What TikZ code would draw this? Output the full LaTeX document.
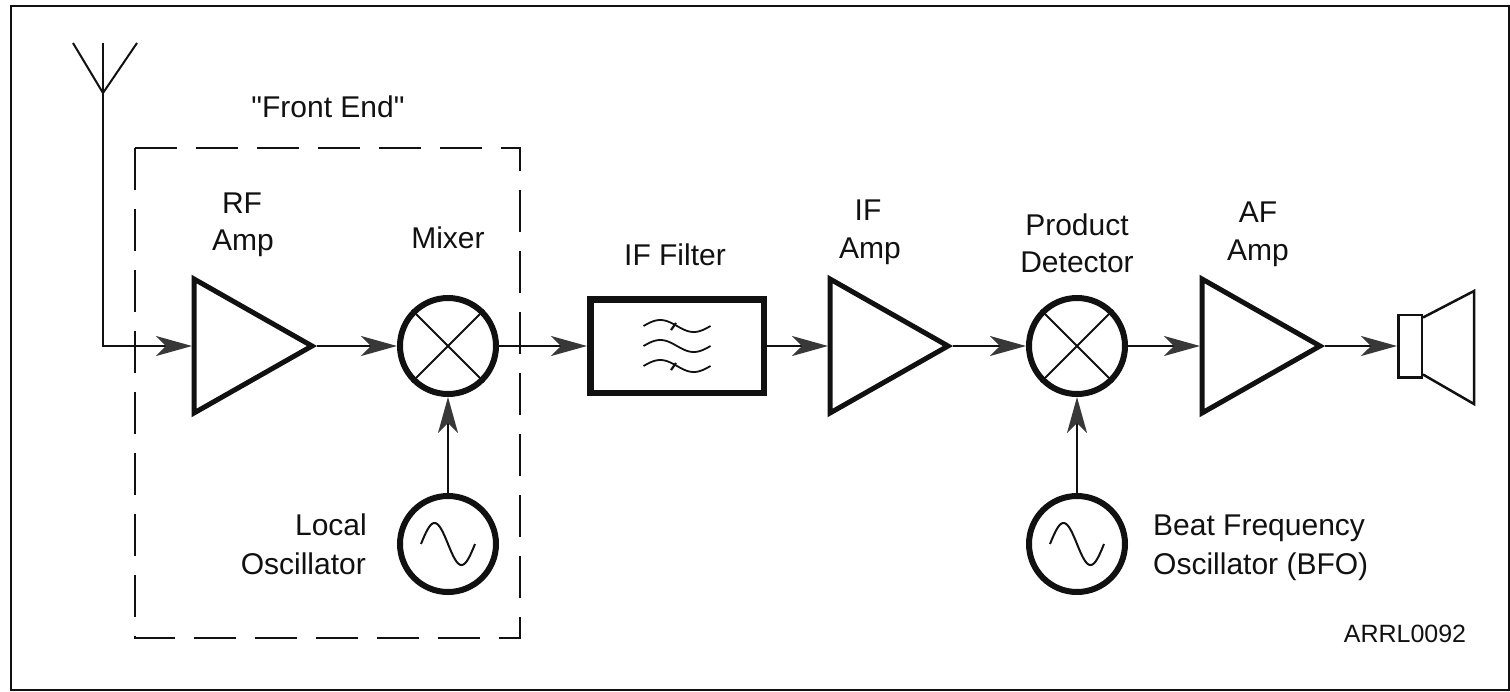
\documentclass[tikz,border=0pt]{standalone}
\usepackage{fontspec}
\setmainfont{Liberation Sans}
\newfontfamily\qfont{Liberation Sans}
\usetikzlibrary{arrows.meta}
\definecolor{arrowgray}{HTML}{383838}
\definecolor{inkblack}{HTML}{111111}
\begin{document}
\begin{tikzpicture}[x=1pt,y=-1pt,
  lbl/.style={font=\fontsize{30}{36}\selectfont, inner sep=0pt, anchor=base, text=inkblack},
  lblr/.style={lbl, anchor=base east},
  lbll/.style={lbl, anchor=base west},
  sig/.style={line width=2pt, draw=inkblack, -{Stealth[length=36pt,width=20pt,inset=10pt,color=arrowgray]}},
  wire/.style={line width=2pt, draw=inkblack},
  ampbox/.style={line width=5pt, draw=inkblack, line join=miter},
  ring/.style={circle, draw=inkblack, line width=6pt, minimum size=96pt, inner sep=0pt},
  thin/.style={line width=2pt, draw=inkblack},
  filt/.style={rectangle, draw=inkblack, line width=6.5pt, minimum width=173.5pt, minimum height=93.5pt, inner sep=0pt},
  spkbox/.style={rectangle, draw=inkblack, line width=2.5pt, minimum width=23.5pt, minimum height=62.5pt, inner sep=0pt},
  frontend/.style={line width=2pt, draw=inkblack, dash pattern=on 42pt off 19pt}
]
\useasboundingbox (0,0) rectangle (1510,691);
% outer frame
\draw[line width=2pt, draw=inkblack] (11,5.5) rectangle (1509,689.5);

% front end dashed box
\draw[frontend] (135,148) rectangle (520,638);
\node[lbl, font=\qfont\fontsize{30}{36}\selectfont] (felbl) at (328,117) {"Front End"};

% antenna
\coordinate (anttop) at (103,43);
\coordinate (antapex) at (103,93);
\coordinate (antl) at (73,43);
\coordinate (antr) at (137,43);
\coordinate (antcorner) at (103,346);
\draw[wire] (antl) -- (antapex) -- (antr);

% RF amp
\draw[ampbox] (194,279) -- (312,346) -- (194,413) -- cycle;
\coordinate (rfin) at (192,346);
\coordinate (rfout) at (317,346);
\node[lbl] (rflbl1) at (242,213) {RF};
\node[lbl] (rflbl2) at (243,250) {Amp};

% Mixer
\node[ring] (mix) at (448,346) {};
\draw[thin] (mix.45) -- (mix.225);
\draw[thin] (mix.135) -- (mix.315);
\node[lbl] (mixlbl) at (448,248) {Mixer};

% Local oscillator
\node[ring] (lo) at (448,544) {};
\draw[thin, shift={(lo.center)}] plot[domain=-27:27, samples=60, smooth] (\x,{21*sin(\x*180/27)});
\node[lblr] (lolbl1) at (367,535) {Local};
\node[lblr] (lolbl2) at (366,574) {Oscillator};

% IF filter
\node[filt] (flt) at (677,346) {};
\foreach \yy in {-20,0,20}{
  \draw[thin, line width=1.8pt, shift={(flt.center)}, yshift=-\yy pt] plot[domain=-33.5:33.5, samples=60, smooth] (\x,{6*sin(\x*180/33.5)});
}
\draw[thin, line width=2.2pt] (671,330) -- (676,323);
\draw[thin, line width=2.2pt] (671,370) -- (676,363);
\node[lbl] (fltlbl) at (675,265) {IF Filter};

% IF amp
\draw[ampbox] (830,279) -- (948,346) -- (830,413) -- cycle;
\coordinate (ifin) at (828,346);
\coordinate (ifout) at (953,346);
\node[lbl] (iflbl1) at (868,220) {IF};
\node[lbl] (iflbl2) at (870,258) {Amp};

% Product detector
\node[ring] (pd) at (1077,346) {};
\draw[thin] (pd.45) -- (pd.225);
\draw[thin] (pd.135) -- (pd.315);
\node[lbl] (pdlbl1) at (1077,235) {Product};
\node[lbl] (pdlbl2) at (1077,272) {Detector};

% BFO
\node[ring] (bfo) at (1077,544) {};
\draw[thin, shift={(bfo.center)}] plot[domain=-27:27, samples=60, smooth] (\x,{21*sin(\x*180/27)});
\node[lbll] (bfolbl1) at (1153,535) {Beat Frequency};
\node[lbll] (bfolbl2) at (1153,574) {Oscillator (BFO)};

% AF amp
\draw[ampbox] (1202,279) -- (1320,346) -- (1202,413) -- cycle;
\coordinate (afin) at (1200,346);
\coordinate (afout) at (1325,346);
\node[lbl] (aflbl1) at (1258,222) {AF};
\node[lbl] (aflbl2) at (1258,260) {Amp};

% Speaker
\node[spkbox] (spk) at (1410,346) {};
\coordinate (conetop) at (1474,291);
\coordinate (conebot) at (1474,404);
\draw[line width=2.5pt, draw=inkblack, line join=miter] ([yshift=-4pt]spk.north east) -- (conetop) -- (conebot) -- ([yshift=4pt]spk.south east);

% connectors
\draw[sig] (anttop) -- (antcorner) -- (rfin);
\draw[sig] (rfout) -- (mix.west);
\draw[sig] (lo.north) -- (mix.south);
\draw[sig] (mix.east) -- (flt.west);
\draw[sig] (flt.east) -- (ifin);
\draw[sig] (ifout) -- (pd.west);
\draw[sig] (bfo.north) -- (pd.south);
\draw[sig] (pd.east) -- (afin);
\draw[sig] (afout) -- (spk.west);

\node[lbl, font=\fontsize{25}{30}\selectfont] (code) at (1405,642) {ARRL0092};
\end{tikzpicture}
\end{document}
